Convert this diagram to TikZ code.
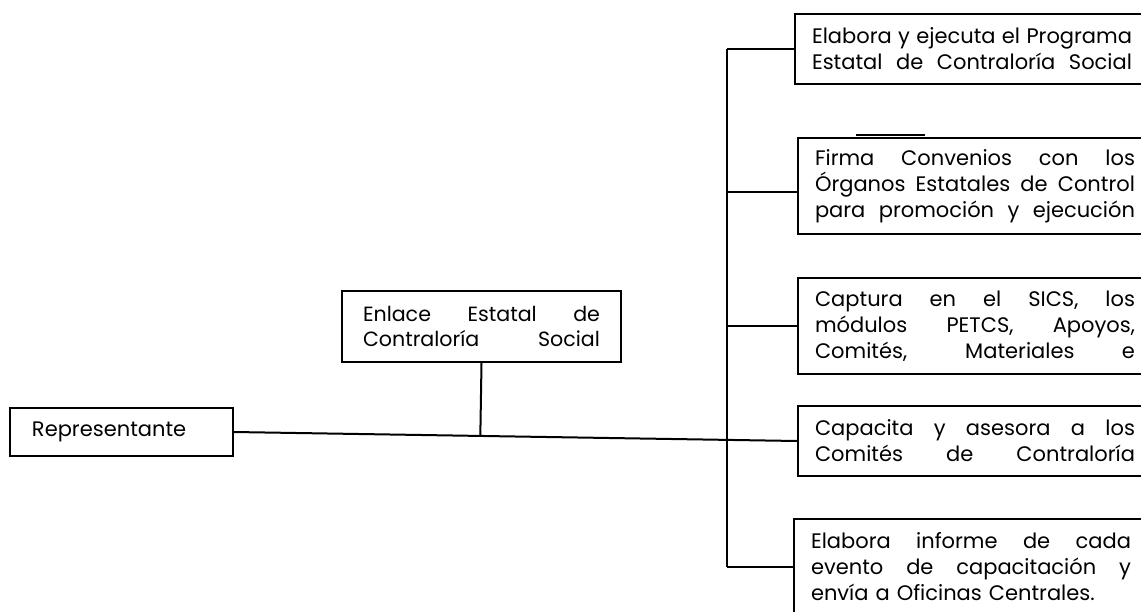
\documentclass[tikz,border=0pt]{standalone}
\usepackage{fontspec}
\setmainfont{Poppins}
\usetikzlibrary{positioning,calc}
% one justified line, spaces stretched to the full width
\newcommand{\jline}[2][160pt]{\leavevmode\hbox to #1{\spaceskip=.25em plus 1fil\relax #2}}

\begin{document}
\begin{tikzpicture}[x=0.5pt, y=-0.5pt, line width=1pt,
    taskbox/.style={draw, anchor=north west, align=left, inner xsep=8.5pt, inner ysep=0pt,
        text width=160pt, font=\fontsize{10.5}{13}\selectfont},
    twoline/.style={minimum height=35pt},
    threeline/.style={minimum height=48pt}]
    \useasboundingbox (0,0) rectangle (1141,611);

    % Representante and Enlace
    \node[draw, anchor=north west, align=left, inner xsep=11pt, inner ysep=0pt,
        text width=89.5pt, minimum height=24pt, font=\fontsize{10.5}{12}\selectfont]
        (rep) at (9,407) {Representante};
    \node[draw, anchor=north west, align=left, inner xsep=10.5pt, inner ysep=0pt,
        text width=118.5pt, minimum height=35.5pt, font=\fontsize{10.3}{12.5}\selectfont]
        (enl) at (341,290) {\jline[118.5pt]{Enlace Estatal de}\\\jline[118.5pt]{Contraloría Social}};

    % Tasks
    \node[taskbox, twoline] (prog) at (794,13)
        {\jline{Elabora y ejecuta el Programa}\\\jline{Estatal de Contraloría Social}};
    \node[taskbox, threeline] (conv) at (797,137)
        {\jline{Firma Convenios con los}\\\jline{Órganos Estatales de Control}\\\jline{para promoción y ejecución}};
    \node[taskbox, threeline] (sics) at (797,277)
        {\jline{Captura en el SICS, los}\\\jline{módulos PETCS, Apoyos,}\\\jline{Comités, Materiales e}};
    \node[taskbox, twoline] (capa) at (797,405)
        {\jline{Capacita y asesora a los}\\\jline{Comités de Contraloría}};
    \node[taskbox, threeline] (info) at (793,518)
        {\jline{Elabora informe de cada}\\\jline{evento de capacitación y}\\envía a Oficinas Centrales.};

    % Trunk
    \coordinate (t) at (727,0);
    \draw (prog.west -| t) -- (info.west -| t);
    \draw (prog.west -| t) -- (prog.west);
    \draw ([yshift=-3pt]conv.west -| t) -- ([yshift=-3pt]conv.west);
    \draw (sics.west -| t) -- (sics.west);
    \draw (info.west -| t) -- (info.west);
    \draw (856,135) -- (925,135);

    % Main line
    \draw (rep.east) -- (capa.west);
    \coordinate (j) at ($(rep.east)!(enl.south)!(capa.west)$);
    \draw (enl.south) -- (j);
\end{tikzpicture}
\end{document}
